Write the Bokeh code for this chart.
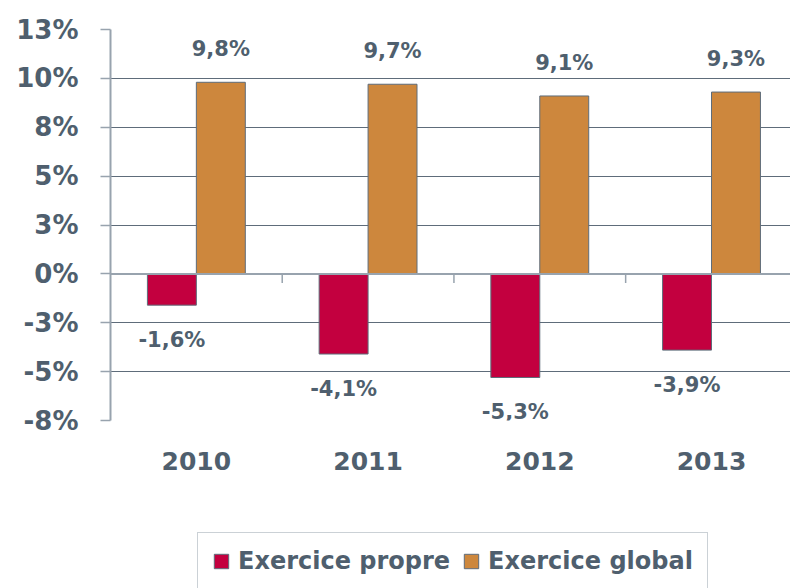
import numpy as np
from bokeh.plotting import figure
from bokeh.layouts import column
from bokeh.models import (ColumnDataSource, Range1d, FixedTicker, LabelSet,
                          Legend, LegendItem, Span)
from bokeh.core.properties import value
from bokeh.embed import file_html
from bokeh.resources import INLINE

# ---- data ----
years = ["2010", "2011", "2012", "2013"]
propre = [-1.6, -4.1, -5.3, -3.9]
global_ = [9.8, 9.7, 9.1, 9.3]
y_ticks = [-7.5, -5, -2.5, 0, 2.5, 5, 7.5, 10, 12.5]
y_tick_labels = ["-8%", "-5%", "-3%", "0%", "3%", "5%", "8%", "10%", "13%"]
series_names = ["Exercice propre", "Exercice global"]

RED = "#C3003F"
ORANGE = "#CD873D"
TEXT = "#4F5F6E"
GRID = "#5E6C7A"
LIGHT = "#98A3AE"
FONT = "DejaVu Sans"

def fmt(v):
    return ("%.1f" % v).replace(".", ",") + "%"

xc = np.arange(len(years)) + 0.5
bw = 0.285
src = ColumnDataSource(dict(
    xr=xc - bw / 2, xg=xc + bw / 2,
    propre=propre, glob=global_,
    lp=[fmt(v) for v in propre], lg=[fmt(v) for v in global_],
))

p = figure(width=790, height=490, output_backend="svg", toolbar_location=None,
           x_range=Range1d(0, 3.96), y_range=Range1d(-7.5, 12.5),
           min_border_left=110, min_border_top=29, min_border_right=0,
           min_border_bottom=70)
p.outline_line_color = None
p.background_fill_color = "white"
p.border_fill_color = "white"

# grid
p.xgrid.grid_line_color = None
p.ygrid.ticker = FixedTicker(ticks=y_ticks)
p.ygrid.grid_line_color = GRID
p.ygrid.grid_line_width = 1

# zero line
p.add_layout(Span(location=0, dimension="width", line_color=LIGHT, line_width=2))

# y axis
ya = p.yaxis[0]
ya.ticker = FixedTicker(ticks=y_ticks)
ya.major_label_overrides = {t: l for t, l in zip(y_ticks, y_tick_labels)}
ya.major_label_text_font = FONT
ya.major_label_text_font_style = "bold"
ya.major_label_text_font_size = "26px"
ya.major_label_text_color = TEXT
ya.major_tick_out = 10
ya.major_tick_in = 0
ya.minor_tick_line_color = None
ya.major_tick_line_color = LIGHT
ya.major_tick_line_width = 1.5
ya.axis_line_color = LIGHT
ya.axis_line_width = 2
ya.major_label_standoff = 22

# x axis
xa = p.xaxis[0]
xa.ticker = FixedTicker(ticks=list(xc))
xa.major_label_overrides = {float(x): y for x, y in zip(xc, years)}
xa.major_label_text_font = FONT
xa.major_label_text_font_style = "bold"
xa.major_label_text_font_size = "25px"
xa.major_label_text_color = TEXT
xa.major_tick_line_color = None
xa.minor_tick_line_color = None
xa.axis_line_color = None
xa.major_label_standoff = 25

# category boundary ticks on the zero line
bounds = np.arange(1, len(years))
p.segment(x0=bounds, x1=bounds, y0=[0] * len(bounds), y1=[-0.47] * len(bounds),
          line_color=LIGHT, line_width=1.5)

# bars
r1 = p.vbar(x="xr", top="propre", bottom=0, width=bw, source=src,
            fill_color=RED, line_color=GRID, line_width=1)
r2 = p.vbar(x="xg", top="glob", bottom=0, width=bw, source=src,
            fill_color=ORANGE, line_color=GRID, line_width=1)

# value labels
for xcol, ycol, tcol, off in [("xr", "propre", "lp", -35), ("xg", "glob", "lg", 33)]:
    p.add_layout(LabelSet(x=xcol, y=ycol, text=tcol, source=src, y_offset=off,
                          text_align="center", text_baseline="middle",
                          text_font=value(FONT), text_font_style="bold",
                          text_font_size="21px", text_color=TEXT))

# ---- legend strip (separate figure below the chart) ----
q = figure(width=790, height=98, output_backend="svg", toolbar_location=None,
           x_range=Range1d(0, 1), y_range=Range1d(0, 1),
           x_axis_location=None, y_axis_location=None,
           min_border_left=0, min_border_right=0, min_border_top=0,
           min_border_bottom=0)
q.outline_line_color = None
q.xgrid.grid_line_color = None
q.ygrid.grid_line_color = None
q.border_fill_color = "white"
# legend-key renderers: their bars sit outside this strip's visible range
keysrc = ColumnDataSource(dict(x=[0.5], top=[-2.0]))
l1 = q.vbar(x="x", top="top", bottom=-3.0, width=0.1, source=keysrc,
            fill_color=RED, line_color=GRID, line_width=1)
l2 = q.vbar(x="x", top="top", bottom=-3.0, width=0.1, source=keysrc,
            fill_color=ORANGE, line_color=GRID, line_width=1)

legend = Legend(items=[LegendItem(label=series_names[0], renderers=[l1]),
                       LegendItem(label=series_names[1], renderers=[l2])],
                orientation="horizontal", location=(87, -2),
                glyph_width=18, glyph_height=18, label_standoff=8, spacing=12,
                padding=14, margin=0,
                label_text_font=FONT, label_text_font_style="bold",
                label_text_font_size="24px", label_text_color=TEXT,
                border_line_color=LIGHT, border_line_width=1.5,
                background_fill_color="white", background_fill_alpha=1)
q.add_layout(legend, "center")

layout = column(p, q, spacing=0)
open("out.html", "w").write(file_html(layout, INLINE))
